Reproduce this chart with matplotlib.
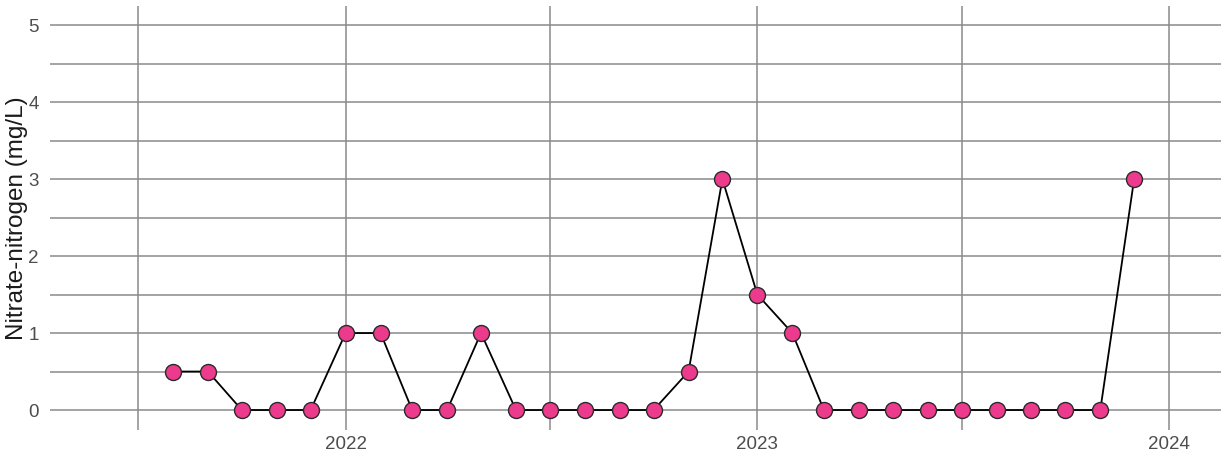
import matplotlib
matplotlib.use("Agg")
import matplotlib.pyplot as plt
import matplotlib.dates as mdates
import pandas as pd

# Monthly nitrate-nitrogen samples, Aug 2021 - Dec 2023
dates = pd.date_range("2021-08-01", "2023-12-01", freq="MS")
nitrate = [0.5, 0.5, 0, 0, 0,
           1, 1, 0, 0, 1, 0, 0, 0, 0, 0, 0.5, 3,
           1.5, 1, 0, 0, 0, 0, 0, 0, 0, 0, 0, 3]

plt.rcParams['font.family'] = ['Liberation Sans', 'DejaVu Sans']

fig = plt.figure(figsize=(12.21, 4.57), dpi=100)
ax = fig.add_axes([0.041, 0.059, 0.959, 0.928])

ax.plot(dates, nitrate, color='black', lw=1.3, zorder=3)
ax.plot(dates, nitrate, 'o', ms=11.5, mfc='#ec3b8d', mec='#2b2b2b', mew=1.0, zorder=4)

ax.set_ylim(-0.26, 5.25)
ax.set_xlim(pd.Timestamp("2021-04-14"), pd.Timestamp("2024-02-16"))

ax.set_yticks([0, 1, 2, 3, 4, 5])
ax.set_yticks([0.5, 1.5, 2.5, 3.5, 4.5], minor=True)
ax.xaxis.set_major_locator(mdates.YearLocator())
ax.xaxis.set_major_formatter(mdates.DateFormatter('%Y'))
ax.xaxis.set_minor_locator(mdates.MonthLocator(bymonth=7))

ax.grid(True, which='both', color='#8a8a8a', lw=1.1)
ax.set_axisbelow(True)
for s in ax.spines.values():
    s.set_visible(False)
ax.tick_params(which='both', length=0)
ax.tick_params(axis='both', labelsize=13.5, labelcolor='#4d4d4d')
ax.tick_params(axis='y', pad=8)
ax.tick_params(axis='x', pad=4)

ax.set_ylabel('Nitrate-nitrogen (mg/L)', fontsize=17.5, color='#1a1a1a', labelpad=0)

fig.savefig('out.png', dpi=100)
